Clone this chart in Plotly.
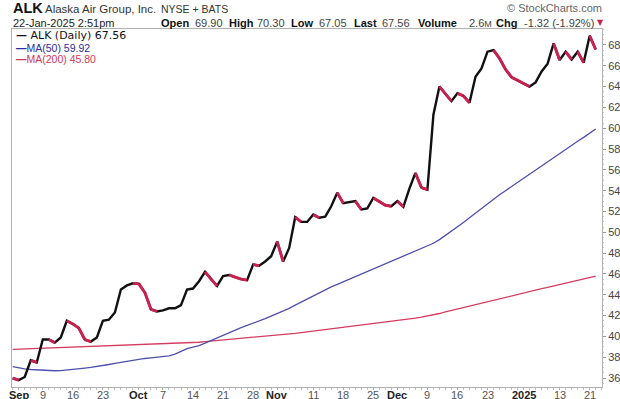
import pandas as pd
import plotly.graph_objects as go

# ---------------- data ----------------
holidays = ['2024-09-02', '2024-11-28', '2024-12-25', '2025-01-01', '2025-01-09', '2025-01-20']
dates = [d.strftime('%Y-%m-%d') for d in pd.bdate_range('2024-08-30', '2025-01-22')
         if d.strftime('%Y-%m-%d') not in holidays]

close = [36.0, 35.8, 36.1, 37.7, 37.5, 39.7, 39.7, 39.4, 39.9, 41.5,
         41.2, 40.8, 39.7, 39.5, 39.9, 41.5, 41.6, 42.3, 44.5, 44.9,
         45.1, 45.05, 44.2, 42.6, 42.4, 42.5, 42.7, 42.7, 43.0, 44.5,
         44.6, 45.3, 46.2, 45.5, 44.85, 45.8, 45.9, 45.7, 45.5, 45.4,
         46.9, 46.8, 47.2, 47.7, 49.1, 47.2, 48.5, 51.45, 51.0, 51.0,
         51.7, 51.4, 51.5, 52.5, 53.8, 52.8, 52.9, 53.0, 52.2, 52.3,
         53.3, 52.95, 52.6, 52.5, 53.0, 52.45, 54.2, 55.7, 54.3, 54.1,
         61.3, 64.0, 63.3, 62.6, 63.35, 63.1, 62.45, 64.95, 65.75, 67.35,
         67.5, 66.7, 65.65, 64.9, 64.6, 64.3, 64.0, 64.4, 65.45, 66.2,
         68.15, 66.55, 67.35, 66.6, 67.35, 66.3, 68.88, 67.56]

ma50 = [37.10, 36.98, 36.88, 36.82, 36.78, 36.75, 36.72, 36.70, 36.72, 36.76,
        36.82, 36.88, 36.95, 37.02, 37.10, 37.20, 37.30, 37.42, 37.52, 37.62,
        37.75, 37.82, 37.88, 37.94, 37.98, 38.04, 38.12, 38.30, 38.55, 38.82,
        38.98, 39.12, 39.35, 39.60, 39.85, 40.10, 40.38, 40.65, 40.85, 41.05,
        41.25, 41.45, 41.70, 41.95, 42.20, 42.42, 42.70, 43.00, 43.30, 43.60,
        43.88, 44.15, 44.45, 44.75, 45.00, 45.25, 45.50, 45.72, 45.95, 46.20,
        46.45, 46.72, 47.00, 47.25, 47.50, 47.75, 47.98, 48.22, 48.45, 48.70,
        48.95, 49.30, 49.70, 50.10, 50.50, 50.95, 51.40, 51.85, 52.30, 52.75,
        53.15, 53.60, 54.00, 54.40, 54.80, 55.20, 55.62, 56.02, 56.42, 56.82,
        57.20, 57.60, 57.98, 58.36, 58.75, 59.12, 59.52, 59.92]

ma200 = [38.75, 38.77, 38.79, 38.81, 38.83, 38.86, 38.88, 38.90, 38.92, 38.94,
         38.96, 38.98, 39.00, 39.02, 39.04, 39.06, 39.08, 39.10, 39.12, 39.15,
         39.17, 39.19, 39.21, 39.24, 39.26, 39.28, 39.31, 39.33, 39.36, 39.38,
         39.41, 39.44, 39.49, 39.54, 39.59, 39.64, 39.69, 39.74, 39.79, 39.84,
         39.89, 39.93, 39.98, 40.04, 40.11, 40.17, 40.24, 40.30, 40.37, 40.44,
         40.50, 40.57, 40.63, 40.70, 40.77, 40.84, 40.91, 40.98, 41.05, 41.12,
         41.20, 41.27, 41.34, 41.41, 41.48, 41.55, 41.65, 41.75, 41.85, 41.95,
         42.05, 42.20, 42.35, 42.49, 42.64, 42.79, 42.94, 43.08, 43.23, 43.38,
         43.52, 43.67, 43.80, 43.93, 44.06, 44.19, 44.32, 44.45, 44.58, 44.71,
         44.84, 44.97, 45.10, 45.24, 45.38, 45.52, 45.66, 45.80]

tick_dates = ['2024-09-03', '2024-09-09', '2024-09-16', '2024-09-23', '2024-10-01',
              '2024-10-07', '2024-10-14', '2024-10-21', '2024-10-28', '2024-11-01',
              '2024-11-11', '2024-11-18', '2024-11-25', '2024-12-02', '2024-12-09',
              '2024-12-16', '2024-12-23', '2025-01-02', '2025-01-13', '2025-01-21']
tick_text = ['<b>Sep</b>', '9', '16', '23', '<b>Oct</b>', '7', '14', '21', '28', '<b>Nov</b>',
             '11', '18', '25', '<b>Dec</b>', '9', '16', '23', '<b>2025</b>', '13', '21']
y_ticks = list(range(36, 70, 2))

assert len(dates) == len(close) == len(ma50) == len(ma200)

# ---------------- figure ----------------
W, H = 620, 399
L, R, T, B = 12, 18, 29, 12
pw, ph = W - L - R, H - T - B

def px(x):
    return (x - L) / pw

def py(y):
    return (H - B - y) / ph

xi = list(range(len(dates)))
BLACK = '#111111'
RED = '#cc2050'
BLUE = '#4f4fae'
PINK = '#d43c60'

fig = go.Figure()
fig.add_trace(go.Scatter(x=xi, y=ma200, mode='lines', line=dict(color=PINK, width=1.3),
                         hoverinfo='skip', showlegend=False))
fig.add_trace(go.Scatter(x=xi, y=ma50, mode='lines', line=dict(color=BLUE, width=1.3),
                         hoverinfo='skip', showlegend=False))
fig.add_trace(go.Scatter(x=xi, y=close, mode='lines', line=dict(color=BLACK, width=2.4),
                         showlegend=False))
# down segments drawn red on top
dx, dy = [], []
for i in range(1, len(close)):
    if close[i] < close[i - 1]:
        dx += [xi[i - 1], xi[i], None]
        dy += [close[i - 1], close[i], None]
fig.add_trace(go.Scatter(x=dx, y=dy, mode='lines', line=dict(color=RED, width=2.9),
                         hoverinfo='skip', showlegend=False))

tickvals = [dates.index(d) for d in tick_dates]

fig.update_xaxes(range=[-0.12, 98.05], tickmode='array', tickvals=tickvals, showticklabels=False,
                 showgrid=False, zeroline=False, showline=True, linecolor='#b0b0b0', linewidth=1,
                 mirror=True, ticks='outside', ticklen=2, tickcolor='#b0b0b0',
                 minor=dict(dtick=1, ticks='outside', ticklen=2, tickcolor='#c0c0c0'),
                 automargin=False, fixedrange=True)
fig.update_yaxes(range=[35.14, 69.53], side='right', tickmode='array', tickvals=y_ticks,
                 showgrid=False, zeroline=False, showline=True, linecolor='#b0b0b0', linewidth=1,
                 mirror=True, ticks='outside', ticklen=3, tickcolor='#999999',
                 tickfont=dict(family='Liberation Sans, Arial', size=11, color='#444444'),
                 minor=dict(dtick=0.5, ticks='outside', ticklen=1, tickcolor='#c8c8c8'),
                 automargin=False, fixedrange=True)

ann = []

def add(text, x, y, size=11, color='#000', family='Liberation Sans, Arial', xanchor='left'):
    ann.append(dict(text=text, x=px(x), y=py(y), xref='paper', yref='paper',
                    xanchor=xanchor, yanchor='middle', showarrow=False,
                    font=dict(size=size, color=color, family=family)))

# x tick labels (placed just under the frame, as in the reference)
for tv, tt in zip(tickvals, tick_text):
    ann.append(dict(text=tt, x=tv, y=py(387), xref='x', yref='paper', xanchor='center',
                    yanchor='top', showarrow=False,
                    font=dict(size=11, family='Liberation Sans, Arial',
                              color='#222' if '<b>' in tt else '#555')))

# header row 1
add('<b>ALK</b>', 11, 8.5, size=14.5, color='#111')
add('Alaska Air Group, Inc.', 43, 9, size=11.5, color='#333')
add('NYSE + BATS', 159, 9, size=10.5, color='#333')
add('© StockCharts.com', 604, 8.5, size=11, color='#666', xanchor='right')
# header row 2
add('22-Jan-2025 2:51pm', 11, 22.5, size=11, color='#222')
row2 = [('<b>Open</b>', 159, '#111'), ('69.90', 193, '#444'),
        ('<b>High</b>', 227, '#111'), ('70.30', 255, '#444'),
        ('<b>Low</b>', 289, '#111'), ('67.05', 317, '#444'),
        ('<b>Last</b>', 352, '#111'), ('67.56', 380, '#444'),
        ('<b>Volume</b>', 416, '#111'), ('2.6<span style="font-size:9px">M</span>', 467, '#444'),
        ('<b>Chg</b>', 494, '#111'), ('-1.32 (-1.92%)', 522, '#444')]
for t, x, c in row2:
    add(t, x, 22.5, size=11, color=c)
add('▼', 595, 22.5, size=8, color=RED, family='DejaVu Sans')

# legend
add('<b>—</b> ALK (Daily) 67.56', 14, 36, size=11, color='#111', family='DejaVu Sans')
add('<b>—</b>MA(50) 59.92', 14, 47.5, size=10.5, color='#2c2ca0')
add('<b>—</b>MA(200) 45.80', 14, 59, size=10.5, color='#d0385a')

fig.update_layout(width=W, height=H, margin=dict(l=L, r=R, t=T, b=B, autoexpand=False),
                  paper_bgcolor='white', plot_bgcolor='white', annotations=ann,
                  showlegend=False)

fig.write_html('out.html', config={'displayModeBar': False, 'staticPlot': True},
               post_script="document.body.style.margin='0';document.body.style.padding='0';"
                           "document.documentElement.style.overflow='hidden';")
